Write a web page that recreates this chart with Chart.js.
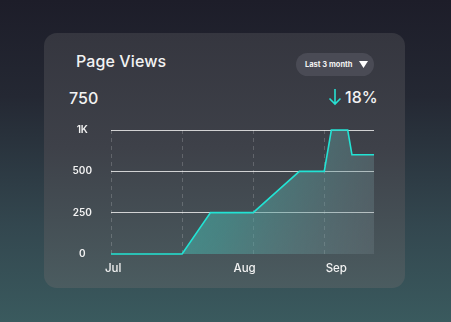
<!DOCTYPE html>
<html>
<head>
<meta charset="utf-8">
<script src="https://cdn.jsdelivr.net/npm/chart.js@4"></script>
<style>
  html, body { margin: 0; padding: 0; }
  body {
    width: 451px; height: 322px; overflow: hidden; position: relative;
    background: linear-gradient(180deg, #1d1d29 0%, #242833 30%, #33474f 70%, #3a5a5e 100%);
    font-family: Inter, "Open Sans", sans-serif; color: #f2f2f2;
  }
  .card {
    position: absolute; left: 44px; top: 33px; width: 361px; height: 255px;
    border-radius: 13px;
    background: linear-gradient(180deg, #35363f 0%, #3e4149 45%, #4b5c60 100%);
  }
  .title { position: absolute; left: 76px; top: 51px; font-size: 16px; font-weight: 500; letter-spacing: 0.1px; }
  .pill {
    position: absolute; left: 296px; top: 53px; width: 78px; height: 23px; border-radius: 12px;
    background: #4a4b55; font-size: 7.5px; font-weight: 700; line-height: 23px;
  }
  .pill span { position: absolute; left: 9px; }
  .pill svg { position: absolute; left: 63px; top: 7px; }
  .total { position: absolute; left: 69px; top: 88px; font-size: 16px; font-weight: 500; }
  .change { position: absolute; left: 345px; top: 87px; font-size: 16px; font-weight: 500; }
  .arrow { position: absolute; left: 328px; top: 88px; }
  #wrap { position: absolute; left: 50px; top: 105px; width: 340px; height: 180px; }
</style>
</head>
<body>
<div class="card"></div>
<div class="title">Page Views</div>
<div class="pill"><span>Last 3 month</span>
  <svg width="9" height="9" viewBox="0 0 10 10"><path d="M0 1 L10 1 L5 9 Z" fill="#ffffff"/></svg>
</div>
<div class="total">750</div>
<svg class="arrow" width="14" height="18" viewBox="0 0 14 18">
  <path d="M7 1 V16 M1.5 10.5 L7 16 L12.5 10.5" stroke="#27e0d2" stroke-width="1.6" fill="none"/>
</svg>
<div class="change">18%</div>
<div id="wrap"><canvas id="views"></canvas></div>

<script>
// x is measured in grid steps from the start of July
const xPoints = [0, 1.0, 1.4, 2.0, 2.65, 3.0, 3.1, 3.33, 3.39, 3.7];
const views   = [0, 0, 250, 250, 500, 500, 1000, 1000, 700, 700];

const yTickValues = [0, 250, 500, 1000];
const yTickLabels = ['0', '250', '500', '1K'];

const monthLabels = ['Jul', 'Aug', 'Sep'];
const monthPositions = [0.03, 1.88, 3.17];
const gridPositions = [0, 1, 2, 3];

// y axis is evenly spaced between the tick values, so map a view count onto tick index
function level(v) {
  for (let i = 1; i < yTickValues.length; i++) {
    if (v <= yTickValues[i]) {
      const lo = yTickValues[i - 1], hi = yTickValues[i];
      return i - 1 + (v - lo) / (hi - lo);
    }
  }
  return yTickValues.length - 1;
}

const points = xPoints.map((x, i) => ({ x: x, y: level(views[i]) }));

function fillGradient(ctx) {
  const area = ctx.chart.chartArea;
  if (!area) return 'rgba(70,150,145,0.5)';
  const g = ctx.chart.ctx.createLinearGradient(area.left, area.top, area.right, area.bottom);
  g.addColorStop(0, 'rgba(50,190,175,0.8)');
  g.addColorStop(0.5, 'rgba(75,165,160,0.58)');
  g.addColorStop(1, 'rgba(125,140,148,0.25)');
  return g;
}

Chart.defaults.font.family = 'Inter, "Open Sans", sans-serif';
Chart.defaults.color = '#f0f0f0';

new Chart(document.getElementById('views'), {
  type: 'line',
  data: {
    datasets: [{
      data: points,
      borderColor: '#22e3d4',
      borderWidth: 1.6,
      backgroundColor: fillGradient,
      fill: 'origin',
      pointRadius: 0,
      tension: 0,
      clip: 6
    }]
  },
  options: {
    responsive: true,
    maintainAspectRatio: false,
    animation: false,
    layout: { padding: { top: 5, right: 16, left: 0, bottom: 0 } },
    plugins: { legend: { display: false }, tooltip: { enabled: false } },
    scales: {
      x: {
        type: 'linear',
        min: 0,
        max: 3.7,
        border: { display: false },
        afterBuildTicks: (scale) => {
          scale.ticks = monthPositions.map(v => ({ value: v }));
        },
        afterFit: (scale) => { scale.height = 31; },
        grid: { display: false, drawTicks: false },
        ticks: {
          autoSkip: false,
          maxRotation: 0,
          padding: 8,
          font: { size: 11.5, weight: '500' },
          color: '#f2f2f2',
          callback: (v) => {
            const i = monthPositions.indexOf(v);
            return i >= 0 ? monthLabels[i] : '';
          }
        }
      },
      y: {
        min: 0,
        max: 3,
        border: { display: false },
        afterFit: (scale) => { scale.width = 61; },
        grid: {
          drawTicks: false,
          color: (c) => c.tick && c.tick.value > 0 ? 'rgba(235,235,235,0.85)' : 'rgba(0,0,0,0)',
          lineWidth: 1
        },
        ticks: {
          stepSize: 1,
          crossAlign: 'center',
          padding: 19,
          font: { size: 10, weight: '600' },
          color: '#f2f2f2',
          callback: (v) => yTickLabels[v]
        }
      }
    }
  },
  plugins: [{
    // dashed vertical lines for the month grid
    id: 'dashGrid',
    beforeDatasetsDraw(chart) {
      const { ctx, chartArea, scales } = chart;
      ctx.save();
      ctx.strokeStyle = 'rgba(255,255,255,0.18)';
      ctx.setLineDash([4, 4]);
      ctx.lineWidth = 1;
      gridPositions.forEach(v => {
        const px = Math.round(scales.x.getPixelForValue(v)) + 0.5;
        ctx.beginPath();
        ctx.moveTo(px, chartArea.top);
        ctx.lineTo(px, chartArea.bottom);
        ctx.stroke();
      });
      ctx.restore();
    }
  }]
});
</script>
</body>
</html>
